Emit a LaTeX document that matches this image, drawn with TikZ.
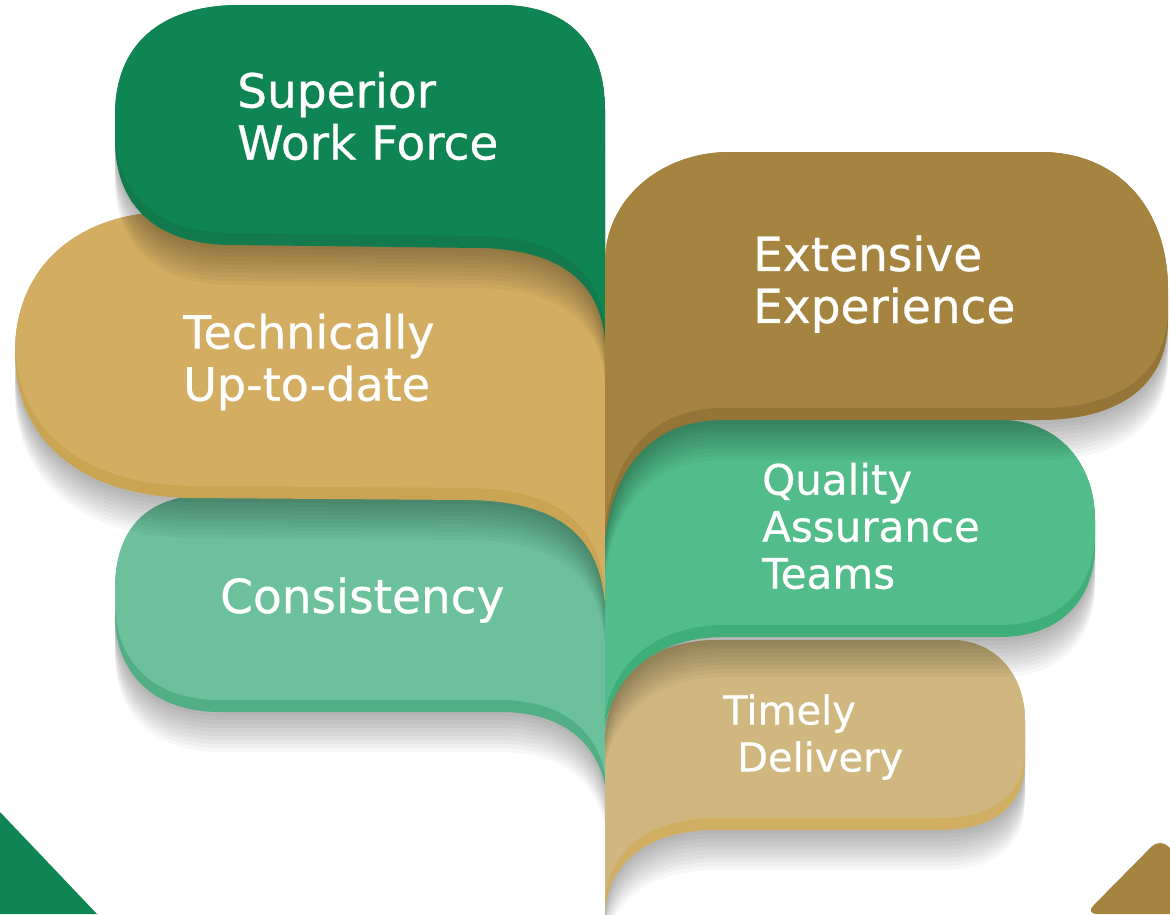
\documentclass[tikz,border=0pt]{standalone}
\usepackage{fontspec}
\setmainfont{DejaVu Sans}
\newfontfamily\lblfont{DejaVu Sans}[FakeBold=0.6]

\definecolor{supgreen}{HTML}{0E8553}
\definecolor{supband}{HTML}{127A4D}
\definecolor{techtan}{HTML}{D2AD62}
\definecolor{techband}{HTML}{C9A452}
\definecolor{consgreen}{HTML}{6CC19C}
\definecolor{consband}{HTML}{52AE84}
\definecolor{expbrown}{HTML}{A5843F}
\definecolor{expband}{HTML}{957437}
\definecolor{qualgreen}{HTML}{52BC8A}
\definecolor{qualband}{HTML}{3FAE78}
\definecolor{timebeige}{HTML}{CFB77F}
\definecolor{timeband}{HTML}{D0AF62}

% leaf outlines, left column
\newcommand{\supleaf}{(605,110) -- (605,340) .. controls (600,290) and (570,250) .. (480,248) -- (230,245) .. controls (150,244) and (115,200) .. (115,140) -- (115,115) .. controls (115,45) and (160,5) .. (240,5) -- (500,5) .. controls (570,5) and (605,45) .. (605,110) -- cycle}
\newcommand{\techleaf}{(605,330) -- (605,605) .. controls (600,545) and (570,502) .. (470,500) -- (190,498) .. controls (80,496) and (15,440) .. (15,352) .. controls (15,265) and (80,212) .. (170,212) -- (480,212) .. controls (570,212) and (605,260) .. (605,330) -- cycle}
\newcommand{\consleaf}{(605,560) -- (605,785) .. controls (595,740) and (560,712) .. (500,712) -- (220,712) .. controls (150,712) and (115,670) .. (115,615) -- (115,590) .. controls (115,530) and (145,495) .. (210,495) -- (520,495) .. controls (575,495) and (605,520) .. (605,560) -- cycle}
% leaf outlines, right column
\newcommand{\expleaf}{(605,262) .. controls (605,200) and (660,152) .. (730,152) -- (1040,152) .. controls (1120,152) and (1168,210) .. (1168,290) -- (1168,320) .. controls (1168,385) and (1120,420) .. (1040,420) -- (720,420) .. controls (650,421) and (612,470) .. (605,540) -- cycle}
\newcommand{\qualleaf}{(605,535) .. controls (605,465) and (645,420) .. (720,420) -- (1000,420) .. controls (1060,420) and (1095,465) .. (1095,520) -- (1095,545) .. controls (1095,600) and (1060,637) .. (1000,637) -- (720,637) .. controls (650,639) and (612,680) .. (605,728) -- cycle}
\newcommand{\timeleaf}{(605,745) .. controls (605,680) and (645,640) .. (720,640) -- (950,640) .. controls (1000,640) and (1025,680) .. (1025,720) -- (1025,760) .. controls (1025,805) and (995,830) .. (940,830) -- (710,830) .. controls (650,832) and (608,860) .. (605,914) -- cycle}

% shadow, darker bottom band, then the leaf itself
\newcommand{\drawleaf}[3]{%
  \foreach \k in {1,...,10}{\fill[black,opacity=0.03,yshift={-\k*4pt}] #1;}
  \fill[#3] #1;
  \begin{scope}
    \clip #1;
    \fill[#2,yshift=12pt] #1;
  \end{scope}
}

\begin{document}
\begin{tikzpicture}[x=1pt,y=-1pt,
  lbl/.style={text=white, align=left, inner sep=0pt}]
\useasboundingbox (0,0) rectangle (1170,914);
\fill[white] (0,0) rectangle (1170,914);

% corners
\fill[supgreen] (0,812) -- (97,914) -- (0,914) -- cycle;
\fill[expbrown, rounded corners=12pt] (1085,914) -- (1160,838) -- (1236,914) -- cycle;

% left column, bottom leaf first
\drawleaf{\consleaf}{consgreen}{consband}
\drawleaf{\techleaf}{techtan}{techband}
\drawleaf{\supleaf}{supgreen}{supband}

% right column
\drawleaf{\timeleaf}{timebeige}{timeband}
\drawleaf{\qualleaf}{qualgreen}{qualband}
\drawleaf{\expleaf}{expbrown}{expband}

\node[lbl, anchor=west, font=\lblfont\fontsize{47}{52}\selectfont] (sup) at (237,116) {Superior\\Work Force};
\node[lbl, anchor=west, font=\lblfont\fontsize{46}{52}\selectfont] (tech) at (183,362) {Technically\\Up-to-date};
\node[lbl, anchor=base west, font=\lblfont\fontsize{47}{52}\selectfont] (cons) at (220,613) {Consistency};
\node[lbl, anchor=west, font=\lblfont\fontsize{47}{52}\selectfont] (exp) at (753,284) {Extensive\\Experience};
\node[lbl, anchor=west, font=\lblfont\fontsize{42}{47}\selectfont] (qual) at (762,526) {Quality\\Assurance\\Teams};
\node[lbl, anchor=west, font=\lblfont\fontsize{40}{47}\selectfont] (time) at (723,737) {Timely\\\hspace*{14pt}Delivery};
\end{tikzpicture}
\end{document}
